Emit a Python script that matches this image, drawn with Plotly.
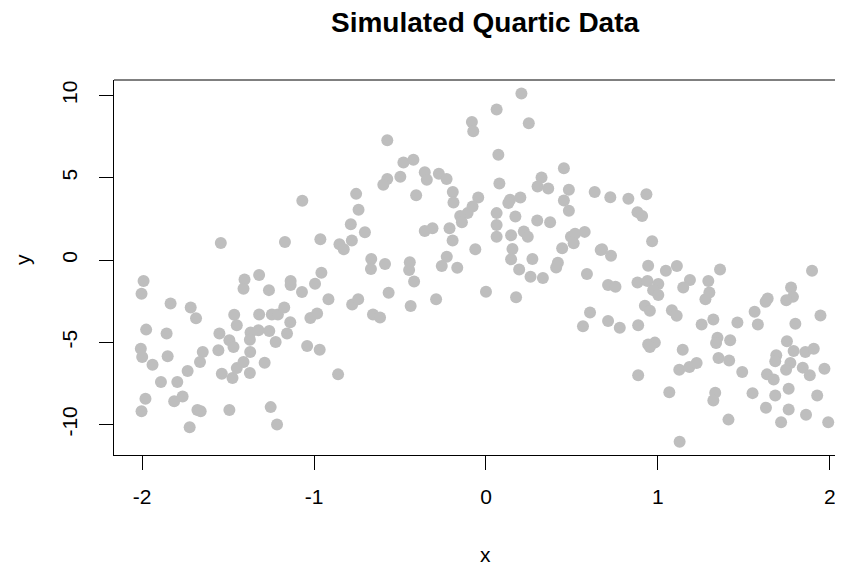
import plotly.graph_objects as go

x_vals = [
    -1.542, -1.991, -2.003, -1.834, -1.717, -1.686, -1.464, -1.449, -1.976, -1.857,
    -1.550, -1.492, -1.468, -2.007, -1.999, -1.939, -1.851, -1.647, -1.663, -1.556,
    -1.735, -1.536, -1.474, -1.449, -1.890, -1.795, -1.980, -1.813, -1.764, -2.003,
    -1.678, -1.659, -1.492, -1.723,
    -1.068, -0.755, -0.741, -0.786, -1.169, -0.963, -0.852, -0.827, -0.780, -1.319,
    -1.404, -1.410, -1.262, -1.136, -1.136, -1.070, -0.994, -0.957, -0.916, -0.778,
    -0.743, -1.319, -1.245, -1.210, -1.173, -1.138, -1.021, -0.982, -1.369, -1.323,
    -1.260, -1.373, -1.223, -1.157, -1.371, -1.040, -0.967, -1.410, -1.287, -1.373,
    -0.860, -1.252, -1.215,
    -0.082, -0.074, -0.574, -0.480, -0.422, -0.574, -0.597, -0.498, -0.356, -0.344,
    -0.274, -0.229, -0.406, -0.193, -0.189, -0.045, -0.078, -0.107, -0.150, -0.140,
    -0.704, -0.356, -0.311, -0.212, -0.194, -0.062, -0.667, -0.669, -0.587, -0.443,
    -0.447, -0.418, -0.228, -0.257, -0.167, -0.566, -0.657, -0.616, -0.438, -0.290,
    0.000,
    0.206, 0.062, 0.249, 0.072, 0.453, 0.323, 0.300, 0.362, 0.482, 0.632,
    0.078, 0.140, 0.130, 0.200, 0.453, 0.482, 0.062, 0.062, 0.171, 0.298,
    0.373, 0.062, 0.146, 0.220, 0.243, 0.494, 0.518, 0.574, 0.510, 0.154,
    0.443, 0.667, 0.146, 0.270, 0.193, 0.259, 0.331, 0.418, 0.408, 0.587,
    0.175, 0.605, 0.564,
    0.723, 0.828, 0.933, 0.881, 0.908, 0.966, 0.675, 0.727, 0.943, 1.046,
    1.110, 1.361, 0.710, 0.753, 0.881, 0.939, 1.002, 0.972, 1.002, 1.186,
    1.147, 1.293, 1.299, 1.276, 0.924, 0.953, 1.081, 1.109, 0.710, 0.778,
    0.885, 1.254, 1.322, 0.943, 0.982, 0.953, 1.144, 1.346, 1.338, 1.352,
    1.124, 1.183, 1.225, 0.885, 1.066, 1.333, 1.322, 1.126,
    1.896, 1.774, 1.785, 1.746, 1.638, 1.626, 1.562, 1.945, 1.462, 1.581,
    1.799, 1.420, 1.750, 1.789, 1.857, 1.906, 1.688, 1.682, 1.770, 1.745,
    1.842, 1.883, 1.968, 1.414, 1.490, 1.634, 1.673, 1.550, 1.682, 1.760,
    1.926, 1.628, 1.760, 1.861, 1.410, 1.716, 1.990,
]

y_vals = [
    1.04, -1.28, -2.05, -2.64, -2.89, -3.54, -3.33, -3.96, -4.23, -4.47,
    -4.47, -4.88, -5.28, -5.39, -5.89, -6.36, -5.85, -5.59, -6.20, -5.49,
    -6.75, -6.91, -7.17, -6.57, -7.42, -7.42, -8.43, -8.58, -8.29, -9.19,
    -9.11, -9.19, -9.11, -10.16,
    3.60, 4.02, 3.05, 2.17, 1.10, 1.26, 0.96, 0.65, 1.18, -0.91,
    -1.18, -1.75, -1.83, -1.28, -1.52, -1.95, -1.44, -0.77, -2.38, -2.70,
    -2.38, -3.31, -3.31, -3.31, -2.89, -3.78, -3.52, -3.25, -4.41, -4.27,
    -4.31, -4.84, -4.98, -4.47, -5.59, -5.22, -5.45, -6.20, -6.24, -6.87,
    -6.95, -8.94, -10.00,
    8.39, 7.83, 7.28, 5.93, 6.10, 4.92, 4.57, 5.06, 5.33, 4.88,
    5.24, 4.92, 3.94, 4.13, 3.50, 3.80, 3.25, 2.85, 2.68, 2.30,
    1.69, 1.77, 1.93, 1.93, 1.18, 0.65, 0.06, -0.55, -0.24, -0.14,
    -0.61, -1.30, 0.20, -0.37, -0.47, -1.99, -3.31, -3.50, -2.80, -2.38,
    -1.93,
    10.12, 9.15, 8.31, 6.40, 5.57, 5.02, 4.47, 4.35, 4.27, 4.13,
    4.65, 3.66, 3.46, 3.80, 3.62, 2.99, 2.85, 2.13, 2.64, 2.40,
    2.30, 1.42, 1.50, 1.73, 1.42, 1.42, 1.59, 1.71, 1.02, 0.67,
    0.71, 0.61, 0.04, 0.06, -0.57, -1.02, -1.10, -0.16, -0.45, -0.85,
    -2.26, -3.19, -4.02,
    3.82, 3.72, 4.00, 2.91, 2.68, 1.14, 0.65, 0.26, -0.35, -0.65,
    -0.37, -0.57, -1.52, -1.63, -1.36, -1.28, -1.46, -1.83, -2.13, -1.22,
    -1.67, -1.28, -1.97, -2.38, -2.78, -3.09, -3.05, -3.39, -3.70, -4.11,
    -3.96, -3.92, -3.62, -5.14, -5.02, -5.28, -5.45, -4.72, -5.04, -5.96,
    -6.67, -6.50, -6.26, -7.01, -8.03, -8.07, -8.54, -11.04,
    -0.65, -1.67, -2.24, -2.44, -2.34, -2.54, -3.15, -3.37, -3.80, -3.92,
    -3.88, -4.88, -4.94, -5.53, -5.59, -5.39, -5.79, -6.16, -6.26, -6.67,
    -6.54, -7.01, -6.61, -6.10, -6.81, -6.95, -7.26, -8.09, -8.23, -7.83,
    -8.23, -8.98, -9.09, -9.41, -9.70, -9.86, -9.86,
]

x_ticks = [-2, -1, 0, 1, 2]
y_ticks = [-10, -5, 0, 5, 10]

FONT = "Liberation Sans, Arial, Helvetica, sans-serif"

fig = go.Figure()
fig.add_trace(go.Scatter(
    x=x_vals, y=y_vals, mode="markers",
    marker=dict(color="#BEBEBE", size=12, line=dict(width=0)),
    showlegend=False, hoverinfo="skip", cliponaxis=False,
))

fig.update_layout(
    width=835, height=557,
    margin=dict(l=106, r=0, t=72, b=110, pad=0),
    paper_bgcolor="white", plot_bgcolor="white",
    font=dict(family=FONT, size=21, color="black"),
    xaxis=dict(
        range=[-2.163, 2.076], tickvals=x_ticks, ticktext=[str(v) for v in x_ticks],
        showgrid=False, zeroline=False, showline=True, linecolor="black", linewidth=1,
        ticks="outside", ticklen=14, tickcolor="black", tickwidth=1,
        tickfont=dict(family=FONT, size=21), ticklabelstandoff=9,
    ),
    yaxis=dict(
        range=[-11.85, 10.94], tickvals=y_ticks, ticktext=[str(v) for v in y_ticks],
        showgrid=False, zeroline=False, showline=True, linecolor="black", linewidth=1,
        ticks="outside", ticklen=14, tickcolor="black", tickwidth=1,
        tickangle=-90, tickfont=dict(family=FONT, size=21), ticklabelstandoff=14,
    ),
    shapes=[dict(type="line", xref="paper", yref="paper", x0=0, x1=1, y0=1, y1=1,
                 line=dict(color="black", width=1))],
    annotations=[
        dict(text="<b>Simulated Quartic Data</b>", xref="x", yref="paper", x=0, y=1,
             yshift=58, showarrow=False, font=dict(family=FONT, size=28),
             xanchor="center", yanchor="middle"),
        dict(text="x", xref="x", yref="paper", x=0, y=0, yshift=-99, showarrow=False,
             font=dict(family=FONT, size=21), xanchor="center", yanchor="middle"),
        dict(text="y", xref="paper", yref="y", x=0, y=0, xshift=-92, showarrow=False,
             textangle=-90, font=dict(family=FONT, size=21), xanchor="center", yanchor="middle"),
    ],
)

fig.write_html("out.html")
